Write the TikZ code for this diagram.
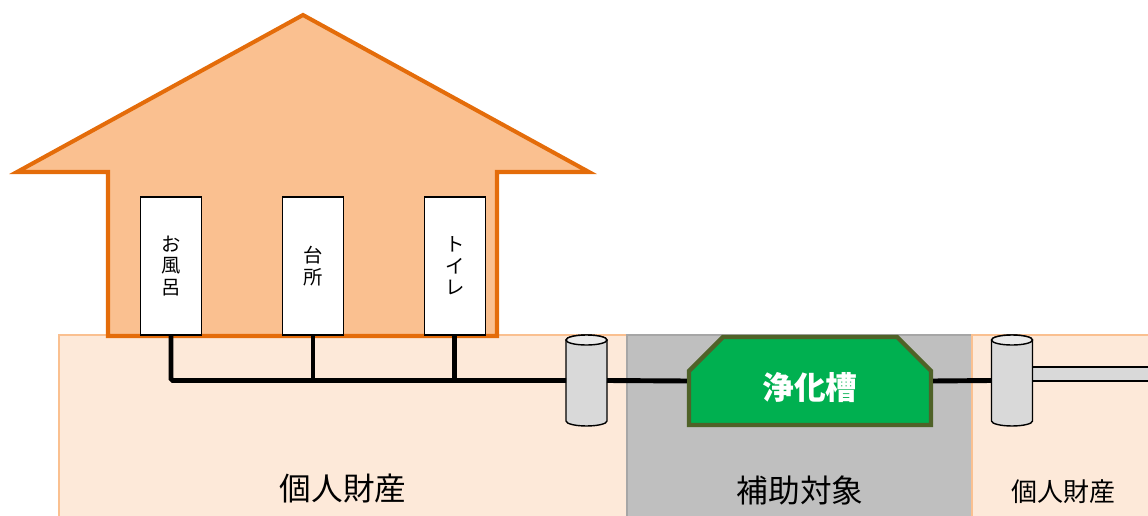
\documentclass[tikz,border=0pt]{standalone}
\usepackage{fontspec}
\setmainfont{Noto Sans CJK JP}
\usetikzlibrary{positioning,shapes.misc}
\definecolor{houseline}{HTML}{E46C0A}
\definecolor{housefill}{HTML}{FAC090}
\definecolor{groundfill}{HTML}{FDE9D9}
\definecolor{groundline}{HTML}{FAC090}
\definecolor{subsidyfill}{HTML}{BFBFBF}
\definecolor{subsidyline}{HTML}{A6A6A6}
\definecolor{tankfill}{HTML}{00B050}
\definecolor{tankline}{HTML}{4F6228}
\definecolor{cylfill}{HTML}{D9D9D9}
\begin{document}
\begin{tikzpicture}[%
  x=0.02cm, y=-0.02cm,
  node distance=2.84cm,
  groundstyle/.style={%
    draw=groundline,
    fill=groundfill,
    line width=0.6pt,
  },
  subsidystyle/.style={%
    draw=subsidyline,
    fill=subsidyfill,
    line width=0.6pt,
  },
  housestyle/.style={%
    draw=houseline,
    fill=housefill,
    line width=2.3pt,
  },
  roomstyle/.style={%
    rectangle,
    minimum width=1.22cm,
    minimum height=2.76cm,
    inner sep=0pt,
    align=center,
    draw=black,
    fill=white,
    line width=0.9pt,
    font=\fontsize{11}{12.2}\selectfont,
  },
  cylbox/.style={%
    rectangle,
    minimum width=0.82cm,
    minimum height=1.82cm,
    inner sep=0pt,
    outer sep=0pt,
  },
  cylbody/.style={%
    draw=black,
    fill=cylfill,
    line width=0.8pt,
  },
  cyltop/.style={%
    draw=black,
    fill=cylfill!55!white,
    line width=0.8pt,
  },
  tankstyle/.style={%
    chamfered rectangle,
    chamfered rectangle corners={north west,north east},
    chamfered rectangle xsep=0.55cm,
    minimum width=4.84cm,
    minimum height=1.76cm,
    draw=tankline,
    fill=tankfill,
    line width=2.5pt,
    text=white,
    text height=23pt,
    text depth=2pt,
    font=\fontsize{18}{20}\selectfont\bfseries,
  },
  pipe/.style={%
    line width=2.8pt,
    draw=black,
  },
  labelstyle/.style={font=\fontsize{18}{20}\selectfont},
  smalllabel/.style={font=\fontsize{14.8}{16}\selectfont},
]
  \useasboundingbox (0,0) rectangle (1148,516);
  % ground
  \draw [groundstyle] (59,335) rectangle (627,520);
  \draw [subsidystyle] (627,335) rectangle (972,520);
  \draw [groundstyle] (972,335) rectangle (1152,520);
  % house
  \draw [housestyle] (303,15) -- (589,172) -- (497,172) -- (497,336)
    -- (108,336) -- (108,172) -- (17,172) -- cycle;
  \node [roomstyle] (bath) at (171,266) {お\\風\\呂};
  \node [roomstyle, right of=bath] (kitchen) {台\\所};
  \node [roomstyle, right of=kitchen] (toilet) {ト\\イ\\レ};
  % outlet pipe
  \filldraw [fill=cylfill, line width=0.8pt] (1025,367) rectangle (1152,381);
  \node [cylbox] (cyl1) at (586.5,380.5) {};
  \node [tankstyle] (tank) at (810,381) {浄化槽};
  \node [cylbox] (cyl2) at (1012,380.5) {};
  % inspection chambers
  \draw [cylbody] ([yshift=-0.1cm]cyl1.north west) -- ([yshift=0.1cm]cyl1.south west)
    arc [start angle=180, end angle=360, x radius=0.41cm, y radius=0.1cm]
    -- ([yshift=-0.1cm]cyl1.north east)
    arc [start angle=0, end angle=180, x radius=0.41cm, y radius=0.1cm] -- cycle;
  \draw [cyltop] ([yshift=-0.1cm]cyl1.north) ellipse [x radius=0.41cm, y radius=0.1cm];
  \draw [cylbody] ([yshift=-0.1cm]cyl2.north west) -- ([yshift=0.1cm]cyl2.south west)
    arc [start angle=180, end angle=360, x radius=0.41cm, y radius=0.1cm]
    -- ([yshift=-0.1cm]cyl2.north east)
    arc [start angle=0, end angle=180, x radius=0.41cm, y radius=0.1cm] -- cycle;
  \draw [cyltop] ([yshift=-0.1cm]cyl2.north) ellipse [x radius=0.41cm, y radius=0.1cm];
  % pipes
  \draw [pipe, rounded corners=1pt] (bath.south) |- (cyl1.west);
  \draw [pipe] (kitchen.south) -- (kitchen.south |- cyl1.west);
  \draw [pipe] (toilet.south) -- (toilet.south |- cyl1.west);
  \draw [pipe] (cyl1.east) -- (tank.west);
  \draw [pipe] (tank.east) -- (cyl2.west);
  % labels
  \node [labelstyle] (privleft) at (343,488) {個人財産};
  \node [labelstyle] (subsidy) at (800,490) {補助対象};
  \node [smalllabel] (privright) at (1063,492) {個人財産};
\end{tikzpicture}
\end{document}
